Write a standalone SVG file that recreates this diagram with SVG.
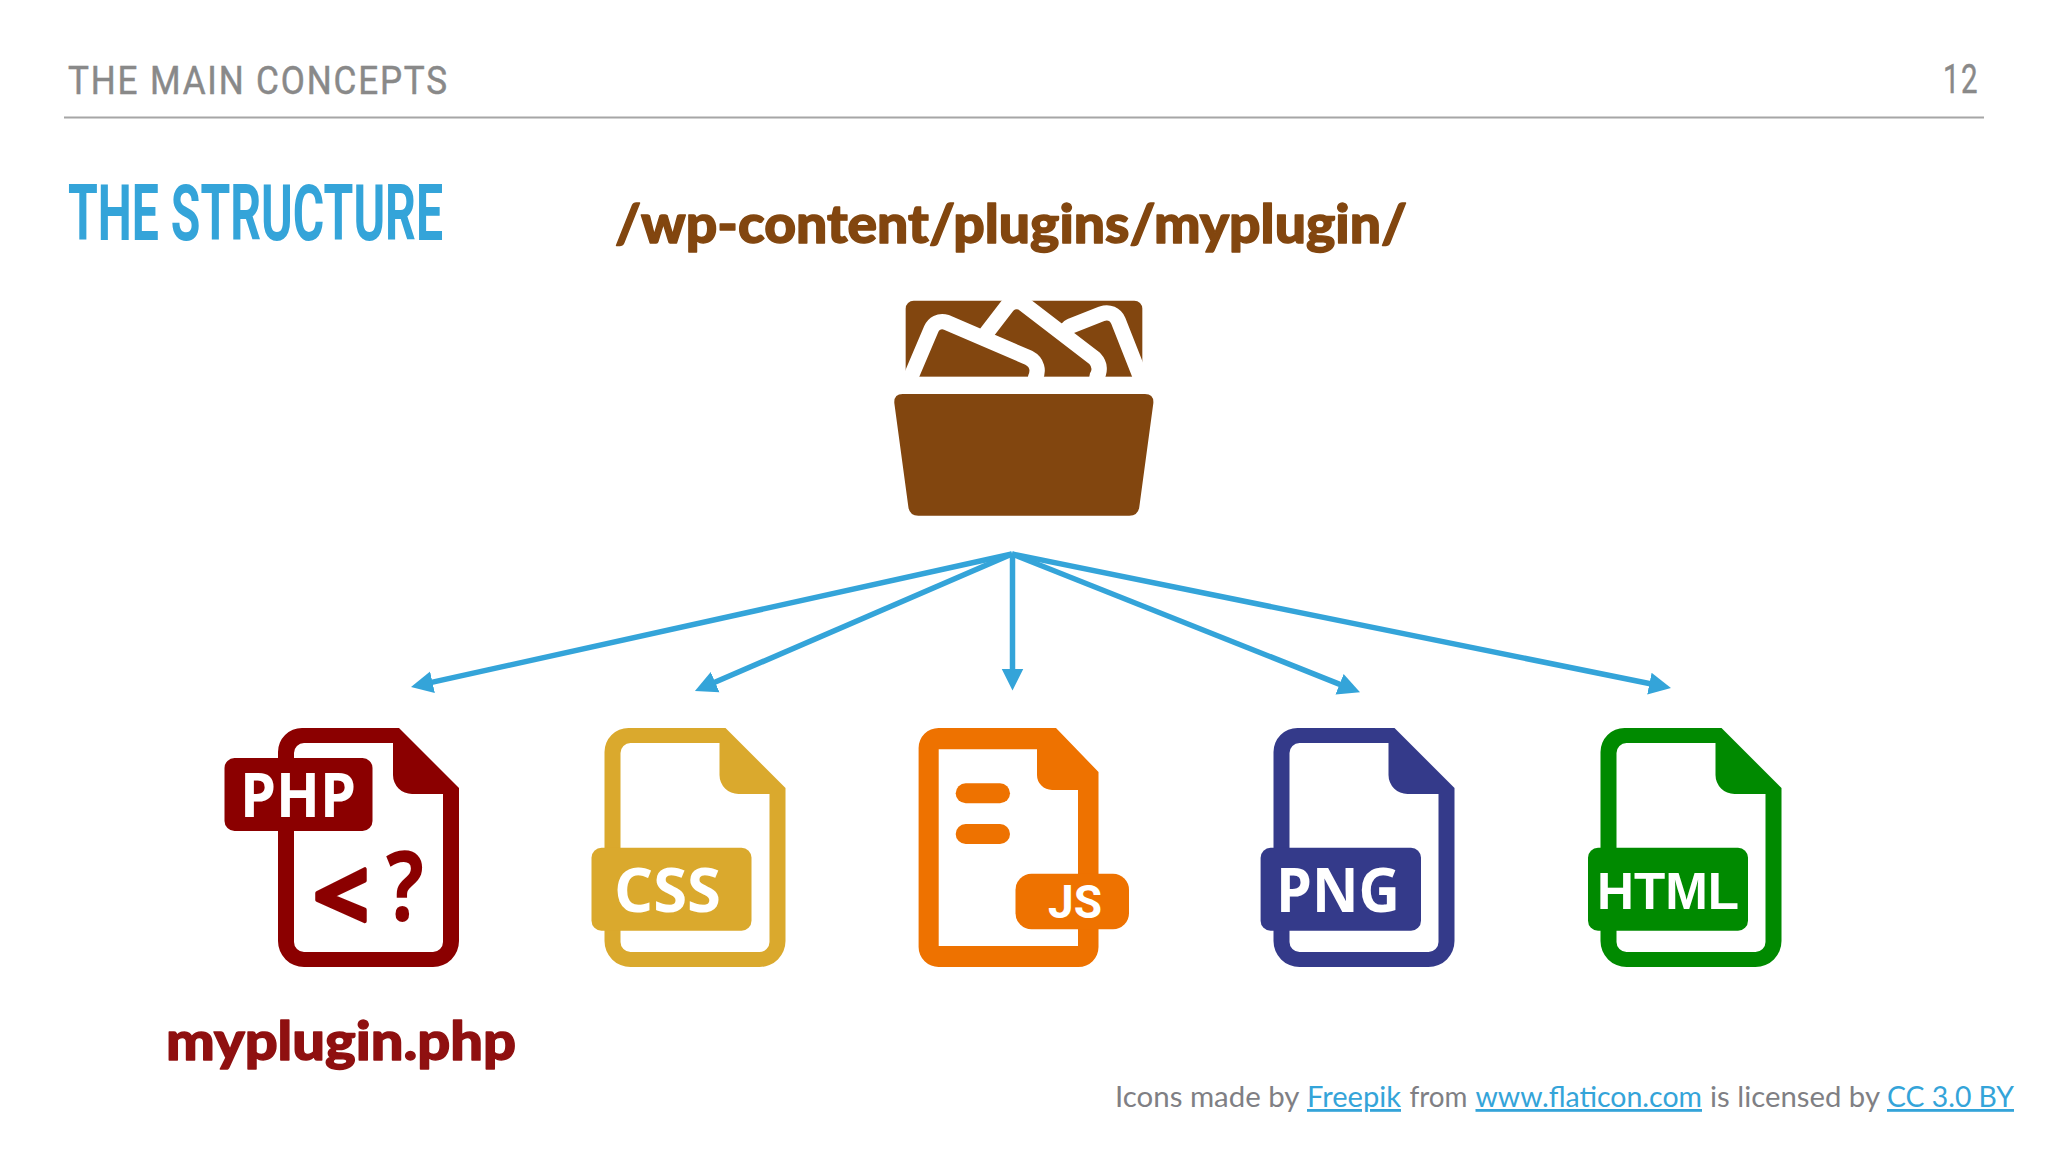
<svg xmlns="http://www.w3.org/2000/svg" width="2048" height="1152" viewBox="0 0 2048 1152">
<style>
.head{font-family:Roboto,"Liberation Sans",sans-serif;font-size:38px;letter-spacing:2px;fill:#898989;stroke:#898989;stroke-width:.5px}
.title{font-family:Roboto,"Liberation Sans",sans-serif;font-size:77px;font-weight:700;fill:#34a4d9}
.path{font-family:Lato,"Noto Sans",sans-serif;font-size:54px;font-weight:900;stroke-width:1.4px;stroke-linejoin:round}
.tag{font-family:"Open Sans","Noto Sans",sans-serif;font-weight:700;fill:#fff}
.foot{font-family:Lato,"Noto Sans",sans-serif;font-size:28px;font-weight:400;fill:#807f84}
.lnk{fill:#34a4d9;text-decoration:underline;text-decoration-thickness:2px;text-underline-offset:4px}
.conn{stroke:#34a4d9;stroke-width:5.5;fill:none;marker-end:url(#ah)}
</style>
<defs>
<marker id="ah" markerUnits="userSpaceOnUse" markerWidth="24" markerHeight="24" refX="1" refY="11" orient="auto" viewBox="0 0 24 22"><path d="M0 0L22 11L0 22Z" fill="#34a4d9"/></marker>
<path id="file" fill-rule="evenodd" d="M24 0H121L181 60V213A26 26 0 0 1 155 239H26A26 26 0 0 1 0 213V24A24 24 0 0 1 24 0ZM26 15A10 10 0 0 0 16 25V214A10 10 0 0 0 26 224H155A10 10 0 0 0 165 214V66H134A19 19 0 0 1 115 47V15Z"/>
</defs>
<rect width="2048" height="1152" fill="#fff"/>
<text class="head" x="68" y="94" textLength="381" lengthAdjust="spacingAndGlyphs">THE MAIN CONCEPTS</text>
<text class="head" x="1943" y="93" textLength="36" lengthAdjust="spacingAndGlyphs" style="font-size:40px">12</text>
<rect x="64" y="116.500" width="1920" height="2" fill="#a6a6a6"/>
<text class="title" x="68" y="240" textLength="375" lengthAdjust="spacingAndGlyphs">THE STRUCTURE</text>
<g id="folder-label"><text class="path" x="615" y="243" textLength="792" lengthAdjust="spacingAndGlyphs" fill="#82460f" stroke="#82460f">/wp-content/plugins/myplugin/</text></g>
<g id="folder" transform="translate(860 280) scale(.33333)" fill="#82460f">
<rect x="137" y="62" width="710" height="240" rx="24"/>
<g stroke="#fff" stroke-width="92" stroke-linejoin="round" paint-order="stroke">
<path d="M640 160L733 123Q748 118 754 132L832 330H700V290Q735 270 720 225Z"/>
<path d="M400 170L460 92Q470 84 480 92L688 252Q700 265 690 280L680 330H540V290Q555 250 525 225Z"/>
<path d="M161 330L234 158Q240 145 252 149L496 254Q515 264 505 285L495 330Z"/>
</g>
<rect x="100" y="290" width="780" height="52" fill="#fff"/>
<path d="M128 342H855Q882 342 880 370L838 680Q835 707 808 707H175Q148 707 145 680L103 370Q101 342 128 342Z"/>
</g>
<g id="connectors">
<line class="conn" x1="1012" y1="554" x2="431.500" y2="682.400"/>
<line class="conn" x1="1012" y1="554" x2="714.200" y2="682.600"/>
<line class="conn" x1="1012.500" y1="554" x2="1012.500" y2="669.500"/>
<line class="conn" x1="1012" y1="554" x2="1340.500" y2="684.600"/>
<line class="conn" x1="1012" y1="554" x2="1650.400" y2="683.800"/>
</g>
<g id="file-php" fill="#8b0000">
<use href="#file" x="278" y="728"/>
<rect x="224.500" y="758" width="148" height="73" rx="10"/>
<text class="tag" x="240" y="817" font-size="60" textLength="116" lengthAdjust="spacingAndGlyphs">PHP</text>
<text x="313" y="931" font-family="Open Sans,sans-serif" font-weight="700" font-size="98" stroke="#8b0000" stroke-width="4" stroke-linejoin="round">&lt;</text>
<text x="386" y="921" font-family="Open Sans,sans-serif" font-weight="700" font-size="96" textLength="38" lengthAdjust="spacingAndGlyphs">?</text>
</g>
<g id="file-css" fill="#daa92d">
<use href="#file" x="604.500" y="728"/>
<rect x="591.500" y="847.700" width="160" height="83" rx="10"/>
<text class="tag" x="614" y="912" font-size="60" textLength="107" lengthAdjust="spacingAndGlyphs">CSS</text>
</g>
<g id="file-js" fill="#ee7200">
<path fill-rule="evenodd" d="M939 728H1056L1098.500 772V947A20 20 0 0 1 1078.500 967H939A20 20 0 0 1 918.600 947V748A20 20 0 0 1 938.600 728ZM938.700 749.300V946H1078V790H1052A15 15 0 0 1 1037 775V749.300Z"/>
<rect x="955.700" y="783.300" width="54.300" height="20" rx="10"/>
<rect x="955.700" y="824" width="54.300" height="20" rx="10"/>
<rect x="1015.500" y="873.700" width="113.500" height="55.600" rx="16"/>
<text x="1048" y="918" font-family="Roboto,sans-serif" font-weight="700" font-size="46" fill="#fff" textLength="54" lengthAdjust="spacingAndGlyphs">JS</text>
</g>
<g id="file-png" fill="#343a8a">
<use href="#file" x="1273.500" y="728"/>
<rect x="1260.600" y="847.700" width="160.400" height="83" rx="10"/>
<text class="tag" x="1276" y="912" font-size="60" textLength="124" lengthAdjust="spacingAndGlyphs">PNG</text>
</g>
<g id="file-html" fill="#008a00">
<use href="#file" x="1600.500" y="728"/>
<rect x="1588" y="847.700" width="160" height="83" rx="10"/>
<text x="1597" y="909" font-family="Liberation Sans,sans-serif" font-weight="700" font-size="52" fill="#fff" textLength="142" lengthAdjust="spacingAndGlyphs">HTML</text>
</g>
<g id="file-label"><text class="path" x="166" y="1060" textLength="350" lengthAdjust="spacingAndGlyphs" fill="#8f1010" stroke="#8f1010">myplugin.php</text></g>
<g id="credit">
<text class="foot" x="1115" y="1107" textLength="184.500" lengthAdjust="spacingAndGlyphs">Icons made by</text>
<text class="foot lnk" x="1307" y="1107" textLength="94" lengthAdjust="spacingAndGlyphs">Freepik</text>
<text class="foot" x="1409.500" y="1107" textLength="58" lengthAdjust="spacingAndGlyphs">from</text>
<text class="foot lnk" x="1475.500" y="1107" textLength="226.500" lengthAdjust="spacingAndGlyphs">www.flaticon.com</text>
<text class="foot" x="1710" y="1107" textLength="170" lengthAdjust="spacingAndGlyphs">is licensed by</text>
<text class="foot lnk" x="1887" y="1107" textLength="127" lengthAdjust="spacingAndGlyphs">CC 3.0 BY</text>
</g>
</svg>
